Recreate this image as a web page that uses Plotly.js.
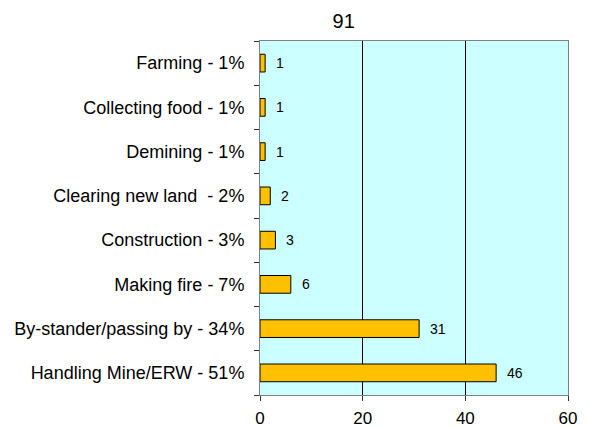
<!DOCTYPE html>
<html><head><meta charset="utf-8">
<script src="https://cdn.plot.ly/plotly-3.0.1.min.js"></script>
<style>body{margin:0;background:#fff}#c{width:589px;height:428px}</style>
</head><body><div id="c"></div>
<script>
const categories = ["Handling Mine/ERW - 51%","By-stander/passing by - 34%","Making fire - 7%","Construction - 3%","Clearing new land  - 2%","Demining - 1%","Collecting food - 1%","Farming - 1%"];
const values = [46,31,6,3,2,1,1,1];
const titleText = "91";
const xTicks = [0,20,40,60];

const trace = {
  type: "bar", orientation: "h",
  x: values, y: categories,
  marker: {color: "#FFC000", line: {color: "#000", width: 1}},
  width: 0.4, hoverinfo: "none"
};
const annotations = values.map((v,i)=>({
  x: v, y: categories[i], xref: "x", yref: "y", text: String(v),
  showarrow: false, xanchor: "left", xshift: 9,
  font: {family: "Liberation Sans, Arial, sans-serif", size: 14, color: "#000"}
}));
const layout = {
  width: 589, height: 428,
  margin: {l: 260, r: 21, t: 41, b: 33},
  paper_bgcolor: "#fff", plot_bgcolor: "#CCFFFF",
  font: {family: "Liberation Sans, Arial, sans-serif", size: 18, color: "#000"},
  title: {text: titleText, xref: "container", x: 0.5835, xanchor: "center", yref: "container", y: 0.952, yanchor: "middle", font: {size: 20}},
  showlegend: false,
  xaxis: {range: [0,60], tickvals: xTicks, ticks: "outside", ticklen: 5, tickcolor: "#333",
    showgrid: true, gridcolor: "#000", gridwidth: 1, zeroline: false,
    showline: true, linecolor: "#808080", mirror: true, linewidth: 1, fixedrange: true,
    tickfont: {size: 17}, ticklabelstandoff: 3},
  yaxis: {type: "category", categoryorder: "array", categoryarray: categories,
    ticks: "outside", ticklen: 5, tickcolor: "#333", tickson: "boundaries",
    showgrid: false, showline: true, linecolor: "#808080", mirror: true, linewidth: 1,
    ticklabelstandoff: 11, fixedrange: true, tickfont: {size: 18}},
  annotations: annotations,
  bargap: 0.6
};
Plotly.newPlot("c", [trace], layout, {displayModeBar: false, staticPlot: true});
</script></body></html>
